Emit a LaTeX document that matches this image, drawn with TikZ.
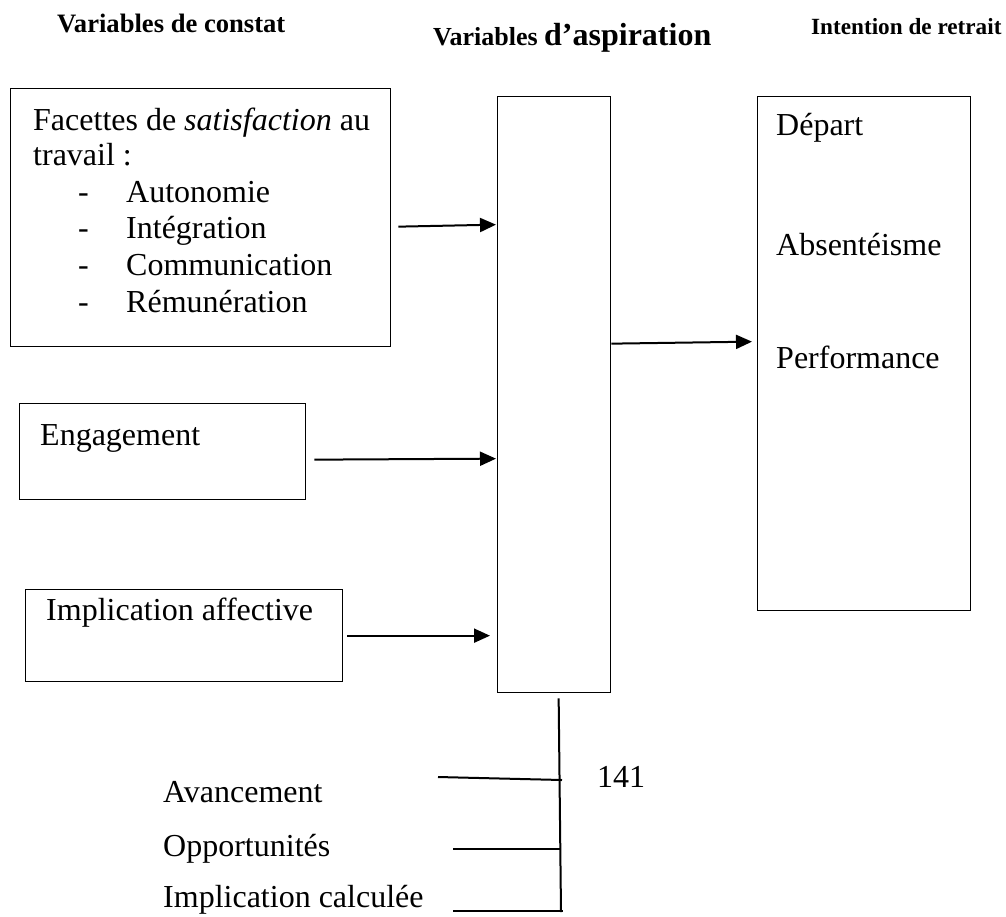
\documentclass[tikz,border=0pt]{standalone}
\usepackage{fontspec}
\setmainfont{Liberation Serif}
\usetikzlibrary{arrows.meta}
\begin{document}
\begin{tikzpicture}[x=1pt,y=-1pt,
  box/.style={draw, line width=1.3pt, inner sep=0pt, anchor=north west},
  txt/.style={anchor=base west, inner sep=0pt, font=\fontsize{32}{38}\selectfont},
  head/.style={anchor=base west, inner sep=0pt, font=\fontsize{26.6}{30}\selectfont\bfseries},
  arr/.style={line width=2pt, -{Triangle[length=16pt,width=14pt]}},
  lin/.style={line width=2pt}]
\useasboundingbox (0,0) rectangle (1006,916);

% column headings
\node[head] (h1) at (57,32) {Variables de constat};
\node[head, font=\fontsize{26}{30}\selectfont\bfseries] (h2) at (433,45) {Variables {\fontsize{32}{36}\selectfont d’aspiration}};
\node[head, font=\fontsize{23.2}{28}\selectfont\bfseries] (h3) at (811,34) {Intention de retrait};

% boxes
\node[box, minimum width=380, minimum height=258] (sat) at (10,88) {};
\node[box, minimum width=113, minimum height=596] (mid) at (497,96) {};
\node[box, minimum width=213, minimum height=514] (out) at (757,96) {};
\node[box, minimum width=286, minimum height=96] (eng) at (19,403) {};
\node[box, minimum width=317, minimum height=92] (aff) at (25,589) {};

% satisfaction facets
\node[txt] (t1) at (33,130) {Facettes de \textit{satisfaction} au};
\node[txt] (t2) at (33,165) {travail :};
\node[txt] (d1) at (78,202) {-};
\node[txt] (i1) at (126,202) {Autonomie};
\node[txt] (d2) at (78,238) {-};
\node[txt] (i2) at (126,238) {Intégration};
\node[txt] (d3) at (78,275) {-};
\node[txt] (i3) at (126,275) {Communication};
\node[txt] (d4) at (78,312) {-};
\node[txt] (i4) at (126,312) {Rémunération};

% withdrawal outcomes
\node[txt] (o1) at (776,135) {Départ};
\node[txt] (o2) at (776,255) {Absentéisme};
\node[txt] (o3) at (776,368) {Performance};

\node[txt] (te) at (40,445) {Engagement};
\node[txt] (ta) at (46,620) {Implication affective};

% arrows into and out of the aspiration box
\draw[arr] ([shift={(7,9)}]sat.east) -- ([shift={(-1,-170)}]mid.west);
\draw[arr] ([shift={(0,-51)}]mid.east) -- ([shift={(-5,-12)}]out.west);
\draw[arr] ([shift={(8,8)}]eng.east) -- ([shift={(-1,64)}]mid.west);
\draw[arr] ([xshift=4]aff.east) -- ([shift={(-7,241)}]mid.west);

% lower branch
\coordinate (vtop) at ([shift={(4.5,5)}]mid.south);
\coordinate (vend) at (561,912);
\draw[lin] (vtop) -- (vend);
\coordinate (a1) at (438,777);
\coordinate (a2) at (562,780);
\coordinate (b1) at (453,849);
\coordinate (b2) at (560,849);
\coordinate (c1) at (453,911);
\coordinate (c2) at (563,911);
\draw[lin] (a1) -- (a2);
\draw[lin] (b1) -- (b2);
\draw[lin] (c1) -- (c2);

\node[txt] (n141) at (597,787) {141};
\node[txt] (l1) at (163,802) {Avancement};
\node[txt] (l2) at (163,856) {Opportunités};
\node[txt] (l3) at (163,907) {Implication calculée};
\end{tikzpicture}
\end{document}
